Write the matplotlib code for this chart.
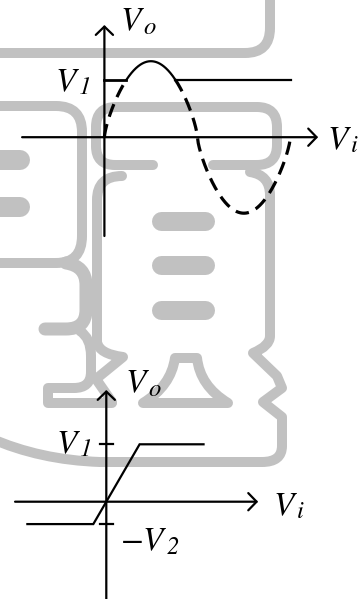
import numpy as np
import matplotlib
matplotlib.use("Agg")
import matplotlib.pyplot as plt
from matplotlib.path import Path
from matplotlib.patches import PathPatch

plt.rcParams['mathtext.fontset'] = 'stix'
plt.rcParams['font.family'] = ['STIXGeneral', 'Liberation Serif', 'DejaVu Serif']

# ---------------- data ----------------
# top diagram: sinusoidal input, output clipped at V1
sine_amplitude = 1.0
sine_periods = 1.0
sine_shape = 0.72          # drawn wave is slightly fuller than a pure sine
top_v1 = 0.755
top_v1_line_end = 6.31     # Vi where the V1 level line stops

# bottom diagram: limiter transfer characteristic
lim_vi = [-2.37, -0.39, 1.0, 2.92]
lim_vo = [-0.39, -0.39, 1.0, 1.0]
bot_v1 = 1.0
bot_v2 = 0.39

# labels: (main part, subscript)
lbl_vo = (r'$V$', 'o')
lbl_vi = (r'$V$', 'i')
lbl_v1 = (r'$V$', '1')
lbl_mv2 = (r'$-V$', '2')

# ---------------- figure ----------------
W, H = 362, 599
fig = plt.figure(figsize=(W / 100, H / 100), dpi=100)

bg = fig.add_axes([0, 0, 1, 1])
bg.set_xlim(0, W)
bg.set_ylim(H, 0)
bg.axis('off')

# background watermark (gray rounded strokes)
WM = '#c1c1c1'
wm_strokes = [
    ([('M', 270, -10), ('L', 270, 28), ('Q', 270, 53, 245, 53), ('L', -10, 53)], 10),
    ([('M', -10, 106), ('L', 56, 106), ('Q', 82, 106, 82, 132), ('L', 82, 236),
      ('Q', 82, 263, 56, 263), ('L', -10, 263)], 10),
    ([('M', 66, 263), ('Q', 86, 266, 86, 285), ('L', 86, 310), ('Q', 86, 329, 66, 329),
      ('L', 45, 329)], 13),
    ([('M', 80, 331), ('Q', 91, 338, 91, 356), ('L', 91, 372), ('Q', 91, 388, 74, 388),
      ('L', 48, 388), ('L', 48, 403), ('L', 112, 403)], 10),
    ([('M', 153, 165), ('L', 115, 165), ('Q', 96, 165, 96, 146), ('L', 96, 127),
      ('Q', 96, 107, 116, 107), ('L', 257, 107), ('Q', 277, 107, 277, 127),
      ('L', 277, 145), ('Q', 277, 165, 257, 165), ('L', 213, 165)], 10),
    ([('M', 122, 176), ('Q', 97, 176, 97, 200), ('L', 97, 342), ('Q', 99, 354, 123, 357),
      ('L', 96, 379), ('L', 112, 402)], 10),
    ([('M', 250, 172), ('Q', 270, 175, 270, 195), ('L', 270, 336), ('Q', 270, 346, 253, 353),
      ('L', 277, 376), ('L', 282, 388), ('L', 263, 402), ('L', 282, 417), ('L', 282, 446),
      ('Q', 282, 462, 262, 462), ('L', 100, 462), ('Q', 40, 460, -10, 438)], 10),
    ([('M', 175, 358), ('L', 197, 358), ('Q', 200, 386, 228, 403), ('L', 143, 403),
      ('Q', 171, 386, 175, 358), ('Z',)], 10),
]
wm_bars = [  # (x0, x1, y, thickness px)
    (-10, 20, 160, 20), (-10, 20, 207, 20),
    (161, 205, 221, 19), (161, 205, 265, 19), (161, 205, 310, 19),
]


def make_path(cmds):
    verts, codes = [], []
    for c in cmds:
        if c[0] == 'M':
            verts.append(c[1:]); codes.append(Path.MOVETO)
        elif c[0] == 'L':
            verts.append(c[1:]); codes.append(Path.LINETO)
        elif c[0] == 'Q':
            verts += [c[1:3], c[3:5]]; codes += [Path.CURVE3, Path.CURVE3]
        elif c[0] == 'Z':
            verts.append(verts[0]); codes.append(Path.CLOSEPOLY)
    return Path(verts, codes)


px2pt = 72 / 100
for cmds, wpx in wm_strokes:
    bg.add_patch(PathPatch(make_path(cmds), fill=False, edgecolor=WM, lw=wpx * px2pt,
                           joinstyle='round', capstyle='round', zorder=0))
for x0, x1, y, wpx in wm_bars:
    bg.plot([x0, x1], [y, y], color=WM, lw=wpx * px2pt, solid_capstyle='round', zorder=0)


def diagram_axes(ox, oy, sx, sy):
    ax = fig.add_axes([0, 0, 1, 1])
    ax.set_xlim(-ox / sx, (W - ox) / sx)
    ax.set_ylim((oy - H) / sy, oy / sy)
    ax.axis('off')
    return ax


LW = 1.6
arrow = dict(arrowstyle='->,head_length=0.6,head_width=0.62', lw=LW, color='black',
             shrinkA=0, shrinkB=0, mutation_scale=10)

# ---------------- top diagram ----------------
axT = diagram_axes(104.4, 137.2, 29.6, 76.0)
axT.annotate('', xy=(7.22, 0), xytext=(-2.78, 0), arrowprops=arrow)
axT.annotate('', xy=(0, 1.476), xytext=(0, -1.30), arrowprops=arrow)

t = np.linspace(0, 2 * np.pi * sine_periods, 1200)
s = np.sin(t)
vo = sine_amplitude * np.sign(s) * np.abs(s) ** sine_shape
idx = np.where(vo >= top_v1)[0]
i1, i2 = idx[0], idx[-1]
dash = (0, (4.2, 2.4))
axT.plot(t[:i1 + 1], vo[:i1 + 1], color='black', lw=2.3, ls=dash)
axT.plot(t[i2:], vo[i2:], color='black', lw=2.3, ls=dash)
axT.plot(t[i1:i2 + 1], vo[i1:i2 + 1], color='black', lw=LW)
axT.plot([0, t[i1]], [top_v1, top_v1], color='black', lw=LW + 0.4)
axT.plot([t[i2], top_v1_line_end], [top_v1, top_v1], color='black', lw=LW)

# ---------------- bottom diagram ----------------
axB = diagram_axes(106.3, 501.7, 33.3, 57.4)
axB.annotate('', xy=(4.56, 0), xytext=(-2.74, 0), arrowprops=arrow)
axB.annotate('', xy=(0, 1.946), xytext=(0, -1.75), arrowprops=arrow)
axB.plot(lim_vi, lim_vo, color='black', lw=LW, solid_joinstyle='miter')
axB.plot([-0.2, 0.2], [bot_v1, bot_v1], color='black', lw=LW)
axB.plot([-0.2, 0.2], [-bot_v2, -bot_v2], color='black', lw=LW)

# ---------------- labels (pixel positions) ----------------
FS = 24
SUB = 0.74
renderer = fig.canvas.get_renderer()


def label(x, y, parts, sub_dx=-1.5, sub_dy=3.5):
    main, sub = parts
    tm = bg.text(x, y, main, fontsize=FS, ha='left', va='baseline', color='black', zorder=5)
    bb = tm.get_window_extent(renderer)
    bg.text(bb.x1 + sub_dx, y + sub_dy, sub, fontsize=FS * SUB, fontstyle='italic',
            family='STIXGeneral', ha='left', va='baseline', color='black', zorder=5)


label(120, 30, lbl_vo)
label(55, 91, lbl_v1)
label(327, 149, lbl_vi)
label(125, 392, lbl_vo)
label(56, 453, lbl_v1)
label(273, 515, lbl_vi)
label(120, 550, lbl_mv2)

fig.savefig('out.png', dpi=100)
